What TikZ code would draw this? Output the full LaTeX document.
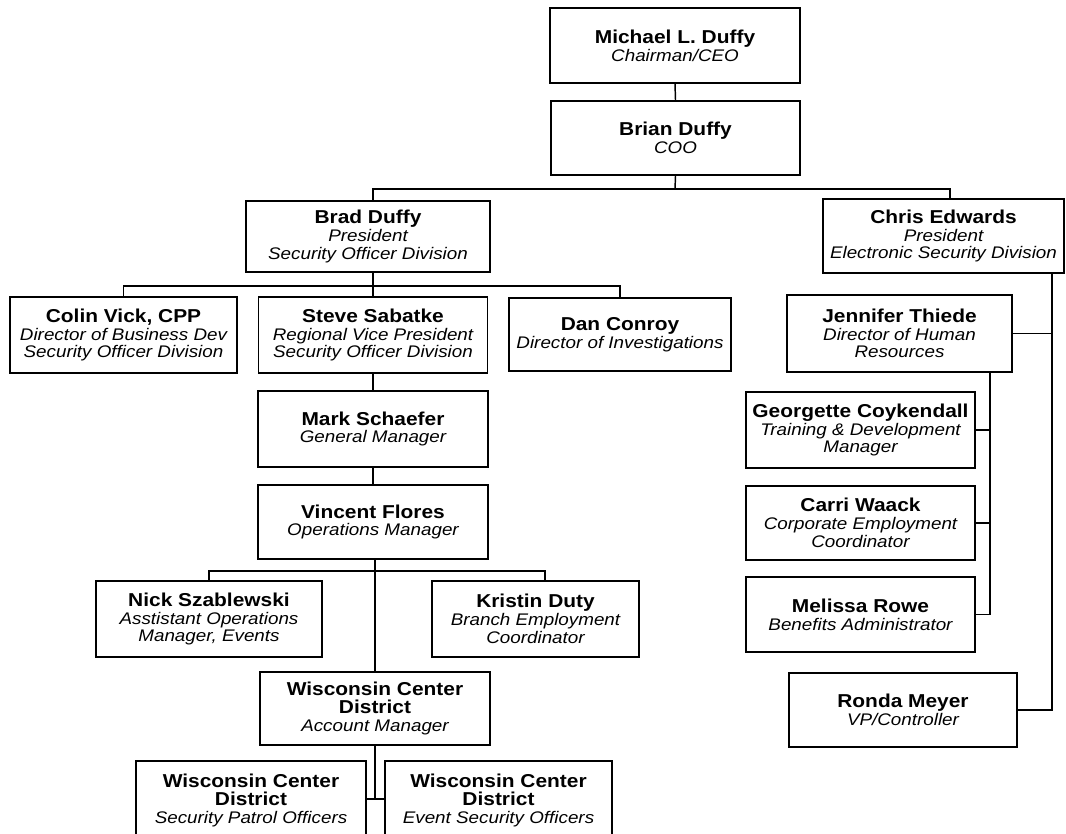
\documentclass[tikz,border=0pt]{standalone}
\usepackage{fontspec}
\setmainfont{Liberation Sans}[FakeStretch=1.12]
\newcommand\pname[1]{{\fontsize{14}{13.3}\selectfont\bfseries #1}}
\newcommand\ptitle[1]{{\fontsize{12.6}{13.3}\selectfont\itshape #1}}
\begin{document}
\begin{tikzpicture}[x=0.75pt,y=-0.75pt,
  box/.style={draw,line width=1.4pt,inner sep=0.5pt,align=center,fill=white,
    font=\fontsize{12.6}{13.3}\selectfont},
  wh/.style 2 args={minimum width=#1*0.75pt,minimum height=#2*0.75pt},
  conn/.style={line width=1.1pt}]
\useasboundingbox (0,0) rectangle (1066,834);
\clip (0,0) rectangle (1066,834);
% top
\node[box,wh={250}{75}] (mld) at (675,45.5) {\pname{Michael L. Duffy}\\\ptitle{Chairman/CEO}};
\node[box,wh={249}{74}] (bd) at (675.5,138) {\pname{Brian Duffy}\\\ptitle{COO}};
\node[box,wh={244}{71}] (brad) at (368,236.5) {\pname{Brad Duffy}\\\ptitle{President}\\\ptitle{Security Officer Division}};
\node[box,wh={241}{74}] (chris) at (943.5,236) {\pname{Chris Edwards}\\\ptitle{President}\\\ptitle{Electronic Security Division}};
% second level left
\node[box,wh={227}{76}] (colin) at (123.5,335) {\pname{Colin Vick, CPP}\\\ptitle{Director of Business Dev}\\\ptitle{Security Officer Division}};
\node[box,wh={229}{76}] (steve) at (373,335) {\pname{Steve Sabatke}\\\ptitle{Regional Vice President}\\\ptitle{Security Officer Division}};
\node[box,wh={222}{73}] (dan) at (620,334.5) {\pname{Dan Conroy}\\\ptitle{Director of Investigations}};
\node[box,wh={230}{76}] (mark) at (373,429) {\pname{Mark Schaefer}\\\ptitle{General Manager}};
\node[box,wh={230}{74}] (vincent) at (373,522) {\pname{Vincent Flores}\\\ptitle{Operations Manager}};
\node[box,wh={226}{76}] (nick) at (209,619) {\pname{Nick Szablewski}\\\ptitle{Asstistant Operations}\\\ptitle{Manager, Events}};
\node[box,wh={207}{76}] (kristin) at (535.5,619) {\pname{Kristin Duty}\\\ptitle{Branch Employment}\\\ptitle{Coordinator}};
\node[box,wh={230}{73}] (am) at (375,708.5) {\pname{Wisconsin Center}\\\pname{District}\\\ptitle{Account Manager}};
\node[box,wh={230}{79}] (wl) at (251,800.5) {\pname{Wisconsin Center}\\\pname{District}\\\ptitle{Security Patrol Officers}};
\node[box,wh={227}{79}] (wr) at (498.5,800.5) {\pname{Wisconsin Center}\\\pname{District}\\\ptitle{Event Security Officers}};
% right side
\node[box,wh={225}{77}] (jen) at (899.5,333.5) {\pname{Jennifer Thiede}\\\ptitle{Director of Human}\\\ptitle{Resources}};
\node[box,wh={229}{76}] (geo) at (860.5,430) {\pname{Georgette Coykendall}\\\ptitle{Training \& Development}\\\ptitle{Manager}};
\node[box,wh={229}{74}] (carri) at (860.5,523) {\pname{Carri Waack}\\\ptitle{Corporate Employment}\\\ptitle{Coordinator}};
\node[box,wh={229}{75}] (mel) at (860.5,614.5) {\pname{Melissa Rowe}\\\ptitle{Benefits Administrator}};
\node[box,wh={228}{74}] (ronda) at (903,710) {\pname{Ronda Meyer}\\\ptitle{VP/Controller}};
% junction coordinates
\coordinate (j1) at (675,189);
\coordinate (cE) at (950,189);
\coordinate (j2) at (373,286);
\coordinate (j3) at (375,571);
\coordinate (kE) at (545,571);
\coordinate (j4) at (375,799);
\coordinate (rX) at (1052,300);
\coordinate (iX) at (990,400);
% connectors
\draw[conn] (mld.south) -- (bd.north);
\draw[conn] (bd.south) -- (j1);
\draw[conn] (brad.north -| steve.north) |- (cE) -- (cE |- chris.north);
\draw[conn] (brad.south -| steve.north) -- (steve.north);
\draw[conn] (colin.north) |- (j2) -| (dan.north);
\draw[conn] (steve.south) -- (mark.north);
\draw[conn] (mark.south) -- (vincent.north);
\draw[conn] (vincent.south -| am.north) -- (am.north);
\draw[conn] (nick.north) |- (kE) -- (kE |- kristin.north);
\draw[conn] (am.south) -- (j4);
\draw[conn] (wl.east |- j4) -- (wr.west |- j4);
\draw[conn] (chris.south -| rX) -- (ronda.east -| rX) -- (ronda.east);
\draw[conn] (jen.east) -- (jen.east -| rX);
\draw[conn] (jen.south -| iX) -- (mel.east -| iX) -- (mel.east);
\draw[conn] (geo.east) -- (geo.east -| iX);
\draw[conn] (carri.east) -- (carri.east -| iX);
\end{tikzpicture}
\end{document}
